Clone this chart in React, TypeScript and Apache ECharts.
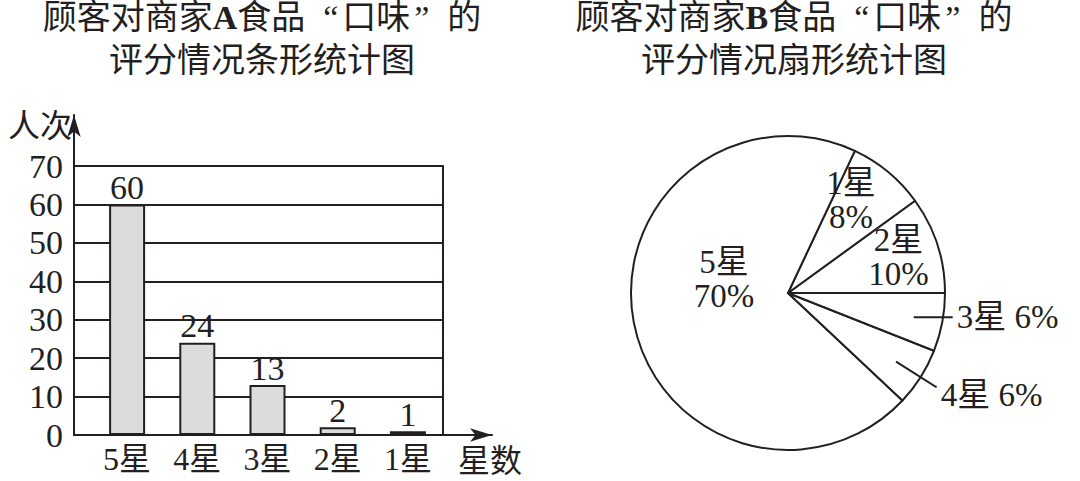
import { useEffect, useRef } from 'react';
import * as echarts from 'echarts';

// 商家A：条形统计图
const starCategories = ['5星', '4星', '3星', '2星', '1星'];
const shopACounts = [60, 24, 13, 2, 1];
const countMin = 0;
const countMax = 70;
const countStep = 10;

// 商家B：扇形统计图（逆时针从水平向右开始）
const pieNames = ['2星', '1星', '5星', '4星', '3星'];
const shopBPercents = [10, 8, 70, 6, 6];

const titleA = '顾客对商家{b|A}食品{lq|“}口味{rq|”}的\n评分情况条形统计图';
const titleB = '顾客对商家{b|B}食品{lq|“}口味{rq|”}的\n评分情况扇形统计图';
const yAxisName = '人次';
const xAxisName = '星数';

const INK = '#231f20';
const FONT = "'Liberation Serif', 'Noto Sans CJK SC', serif";

// the three wide slices keep their label inside, nudged a little
const insideLabel: Record<string, number[]> = {
  '2星': [33, -11],
  '1星': [11, -30],
  '5星': [16, -29],
};
// the two thin slices get a leader line that starts inside the slice
const leader: Record<string, any> = {
  '4星': { length: 47, length2: 1, offset: [0, 8] },
  '3星': { length: 1, length2: 38, offset: [0, 0] },
};

function buildOption(): any {
  const text = { color: INK, fontFamily: FONT, fontSize: 32 };
  const numText = { ...text, fontSize: 34 };
  const titleStyle = {
    ...text, fontSize: 34, lineHeight: 43, fontWeight: 'normal',
    rich: {
      b: { ...text, fontSize: 34, lineHeight: 43, fontWeight: 'bold' },
      lq: { ...text, fontSize: 34, lineHeight: 43, padding: [0, 4, 0, 18] },
      rq: { ...text, fontSize: 34, lineHeight: 43, padding: [0, 18, 0, 4] },
    },
  };
  const pieText = { ...text, fontSize: 33, lineHeight: 34 };

  return {
    animation: false,
    backgroundColor: '#fff',
    title: [
      { text: titleA, left: 257, top: -9, textAlign: 'center', textStyle: titleStyle },
      { text: titleB, left: 789, top: -9, textAlign: 'center', textStyle: titleStyle },
    ],
    grid: [
      // box with gridlines
      { left: 74, top: 166, width: 369, height: 269 },
      // arrow axes
      { left: 74, top: 115, width: 418, height: 320 },
      // bars
      { left: 92, top: 166, width: 351, height: 269 },
    ],
    xAxis: [
      { gridIndex: 0, type: 'value', min: 0, max: 1, show: false },
      {
        gridIndex: 1, type: 'value', min: 0, max: 1,
        axisLine: { show: true, lineStyle: { color: INK, width: 2 }, symbol: ['none', 'arrow'], symbolSize: [10, 22] },
        axisTick: { show: false }, axisLabel: { show: false }, splitLine: { show: false },
        name: xAxisName, nameLocation: 'end', nameGap: -34,
        nameTextStyle: { ...text, align: 'left', verticalAlign: 'top', padding: [10, 0, 0, 0] },
      },
      {
        gridIndex: 2, type: 'category', data: starCategories,
        axisLine: { show: false }, axisTick: { show: false },
        axisLabel: { ...text, margin: 8 },
      },
    ],
    yAxis: [
      {
        gridIndex: 0, type: 'value', min: countMin, max: countMax, interval: countStep,
        axisLine: { show: false }, axisTick: { show: false },
        axisLabel: { ...numText, margin: 11 },
        splitLine: { show: true, lineStyle: { color: INK, width: 2 } },
      },
      {
        gridIndex: 0, type: 'value', min: countMin, max: countMax, position: 'right',
        axisLine: { show: true, lineStyle: { color: INK, width: 2 } },
        axisTick: { show: false }, axisLabel: { show: false }, splitLine: { show: false },
      },
      {
        gridIndex: 1, type: 'value', min: 0, max: 1,
        axisLine: { show: true, lineStyle: { color: INK, width: 2 }, symbol: ['none', 'arrow'], symbolSize: [10, 22] },
        axisTick: { show: false }, axisLabel: { show: false }, splitLine: { show: false },
        name: yAxisName, nameLocation: 'end', nameGap: 5,
        nameTextStyle: { ...text, align: 'right', verticalAlign: 'top', padding: [0, 2, 0, 0] },
      },
      { gridIndex: 2, type: 'value', min: countMin, max: countMax, show: false },
    ],
    series: [
      {
        type: 'bar', xAxisIndex: 2, yAxisIndex: 3, data: shopACounts,
        barWidth: 36, silent: true,
        itemStyle: { color: '#dcdcdc', borderColor: INK, borderWidth: 2 },
        label: { show: true, position: 'top', distance: 0, ...numText },
      },
      {
        // slices + inside labels
        type: 'pie', center: [788, 293], radius: 157, z: 2,
        startAngle: 0, clockwise: false, avoidLabelOverlap: false, silent: true,
        itemStyle: { color: '#fff', borderColor: INK, borderWidth: 2 },
        label: { ...pieText, show: true, position: 'inside', formatter: '{b}\n{d}%' },
        labelLine: { show: false },
        labelLayout: { hideOverlap: false },
        data: pieNames.map((name, i) => ({
          name,
          value: shopBPercents[i],
          label: insideLabel[name] ? { show: true, offset: insideLabel[name] } : { show: false },
        })),
      },
      {
        // invisible inner copy on top, only carries the leader-line labels
        type: 'pie', center: [788, 293], radius: 128, z: 4,
        startAngle: 0, clockwise: false, avoidLabelOverlap: false, silent: true,
        itemStyle: { color: 'rgba(255,255,255,0)', borderWidth: 0 },
        label: { ...pieText, position: 'outside', formatter: '{b} {d}%', distanceToLabelLine: 4 },
        labelLine: { lineStyle: { color: INK, width: 2 } },
        labelLayout: { hideOverlap: false },
        data: pieNames.map((name, i) => {
          const l = leader[name];
          return {
            name,
            value: shopBPercents[i],
            label: l ? { show: true, offset: l.offset } : { show: false },
            labelLine: l ? { show: true, length: l.length, length2: l.length2 } : { show: false },
          };
        }),
      },
    ],
  };
}

export default function App() {
  const ref = useRef<HTMLDivElement>(null);

  useEffect(() => {
    if (!ref.current) return;
    const chart = echarts.init(ref.current, null, { renderer: 'svg' });
    chart.setOption(buildOption());
    return () => chart.dispose();
  }, []);

  return (
    <div
      ref={ref}
      style={{ position: 'fixed', left: 0, top: 0, width: 1080, height: 481, background: '#fff' }}
    />
  );
}
